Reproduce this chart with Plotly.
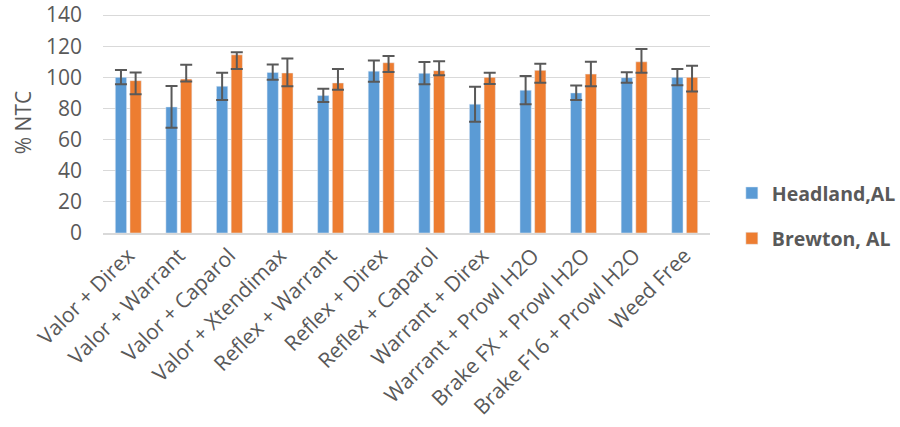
import plotly.graph_objects as go

categories = ["Valor + Direx", "Valor + Warrant", "Valor + Caparol", "Valor + Xtendimax",
              "Reflex + Warrant", "Reflex + Direx", "Reflex + Caparol", "Warrant + Direx",
              "Warrant + Prowl H2O", "Brake FX + Prowl H2O", "Brake F16 + Prowl H2O", "Weed Free"]

headland = [100, 81, 94.3, 103.2, 88.3, 104, 102.6, 82.8, 91.7, 90, 99.8, 100]
headland_plus = [4.7, 13.5, 8.7, 5.0, 4.4, 6.9, 7.2, 11.2, 9.1, 4.8, 3.5, 5.3]
headland_minus = [4.5, 13.3, 8.8, 4.7, 4.2, 6.8, 7.1, 11.3, 8.9, 4.6, 3.3, 5.1]

brewton = [97.9, 98.9, 114.5, 102.8, 96.4, 109.4, 104.3, 100, 104.5, 102.1, 110, 100]
brewton_plus = [5.3, 9.2, 1.7, 9.3, 8.9, 4.4, 6.1, 3.0, 4.2, 7.9, 8.3, 7.4]
brewton_minus = [8.8, 1.5, 9.2, 8.5, 4.3, 6.0, 3.0, 4.3, 7.9, 7.8, 7.0, 9.1]

y_ticks = [0, 20, 40, 60, 80, 100, 120, 140]

err_style = dict(type="data", symmetric=False, color="#595959", thickness=2, width=6)

fig = go.Figure()
fig.add_trace(go.Bar(
    name="Headland,AL", x=categories, y=headland, marker_color="#5B9BD5",
    error_y=dict(array=headland_plus, arrayminus=headland_minus, **err_style),
    legendgroup="a"))
fig.add_trace(go.Bar(
    name="Brewton, AL", x=categories, y=brewton, marker_color="#ED7D31",
    error_y=dict(array=brewton_plus, arrayminus=brewton_minus, **err_style),
    legendgroup="b"))

font_family = "Open Sans"
fig.update_layout(
    width=900, height=427,
    margin=dict(l=103, r=190, t=12, b=194, autoexpand=False),
    paper_bgcolor="white", plot_bgcolor="white",
    barmode="group", bargap=0.42, bargroupgap=0.23,
    font=dict(family=font_family, color="#595959", size=21),
    legend=dict(x=1.036, y=0.078, xanchor="left", yanchor="middle",
                font=dict(family=font_family, size=19.5, color="#595959", weight="bold"),
                tracegroupgap=17, bgcolor="rgba(0,0,0,0)"),
    showlegend=True,
)
fig.update_yaxes(
    range=[0, 142], tickvals=y_ticks, showgrid=True, gridcolor="#D9D9D9", gridwidth=1,
    zeroline=False, showline=False, ticks="", ticklabelstandoff=20,
    ticklabeloverflow="allow",
    tickfont=dict(size=21, color="#595959"),
    title=dict(text="% NTC", font=dict(size=21, color="#595959"), standoff=8),
)
fig.update_xaxes(
    tickangle=-45, showline=True, linecolor="#D9D9D9", linewidth=2, ticks="",
    tickfont=dict(size=21, color="#595959"),
)

fig.write_html("out.html", config={"displayModeBar": False},
               post_script="document.body.style.margin='0';")
